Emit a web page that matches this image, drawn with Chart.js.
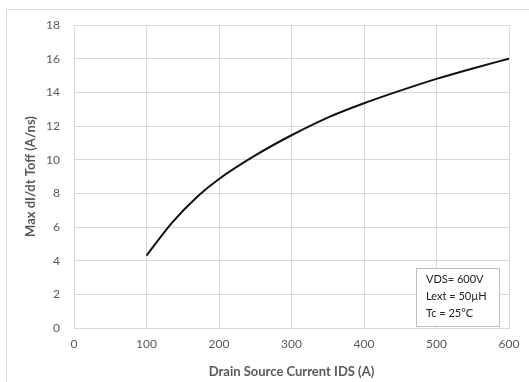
<!DOCTYPE html>
<html>
<head>
<meta charset="utf-8">
<script src="https://cdn.jsdelivr.net/npm/chart.js@4"></script>
<style>
  html, body { margin: 0; padding: 0; background: #ffffff; }
  #wrap { position: relative; width: 529px; height: 382px; }
</style>
</head>
<body>
<div id="wrap"><canvas id="c" width="529" height="382"></canvas></div>
<script>
const currentIDS = [100, 135, 170, 200, 250, 300, 350, 400, 450, 500, 550, 600];
const maxDiDtToff = [4.3, 6.25, 7.8, 8.85, 10.25, 11.45, 12.5, 13.35, 14.1, 14.8, 15.42, 16.0];
const xTicks = [0, 100, 200, 300, 400, 500, 600];
const yTicks = [0, 2, 4, 6, 8, 10, 12, 14, 16, 18];
const noteLines = ["VDS= 600V", "Lext = 50\u00b5H", "Tc = 25\u00b0C"];
const xTitle = "Drain Source Current IDS (A)";
const yTitle = "Max dI/dt Toff (A/ns)";

const FONT = "Lato, 'Open Sans', sans-serif";
const GRID = "#d9d9d9";
const TXT = "#595959";

const frame = {
  id: 'frame',
  beforeDraw(chart) {
    const ctx = chart.ctx;
    ctx.save();
    ctx.fillStyle = '#ffffff';
    ctx.fillRect(0, 0, chart.width, chart.height);
    ctx.strokeStyle = GRID;
    ctx.lineWidth = 1;
    ctx.strokeRect(6.5, 9.5, chart.width + 20, chart.height + 20);
    ctx.restore();
  }
};

const note = {
  id: 'note',
  afterDatasetsDraw(chart) {
    const ctx = chart.ctx;
    const a = chart.chartArea;
    const w = 83, h = 58;
    const x = a.right - 10 - w, y = a.bottom - 2 - h;
    ctx.save();
    ctx.fillStyle = '#ffffff';
    ctx.fillRect(x, y, w, h);
    ctx.strokeStyle = '#bfbfbf';
    ctx.lineWidth = 1;
    ctx.strokeRect(Math.round(x) + 0.5, Math.round(y) + 0.5, w, h);
    ctx.fillStyle = '#222222';
    ctx.font = "11px " + FONT;
    ctx.textBaseline = 'middle';
    noteLines.forEach((t, i) => ctx.fillText(t, x + 10, y + 11 + i * 17));
    ctx.restore();
  }
};

new Chart(document.getElementById('c'), {
  type: 'line',
  data: {
    datasets: [{
      data: currentIDS.map((v, i) => ({ x: v, y: maxDiDtToff[i] })),
      borderColor: '#111111',
      borderWidth: 2,
      pointRadius: 0,
      fill: false,
      tension: 0.4,
      cubicInterpolationMode: 'monotone'
    }]
  },
  options: {
    responsive: false,
    animation: false,
    devicePixelRatio: 1,
    layout: { padding: { left: 23, right: 20, top: 25, bottom: 2 } },
    plugins: { legend: { display: false }, tooltip: { enabled: false } },
    scales: {
      x: {
        type: 'linear',
        min: 0, max: 600,
        afterBuildTicks(s) { s.ticks = xTicks.map(v => ({ value: v })); },
        grid: { color: GRID, drawTicks: false },
        border: { color: GRID },
        ticks: { color: TXT, font: { family: FONT, size: 12 }, padding: 9, maxRotation: 0 },
        title: { display: true, text: xTitle, color: TXT, font: { family: FONT, size: 13, weight: 'bold' }, padding: { top: 6, bottom: 0 } },
        afterFit(s) { s.height = 52; }
      },
      y: {
        min: 0, max: 18,
        afterBuildTicks(s) { s.ticks = yTicks.map(v => ({ value: v })); },
        grid: { color: GRID, drawTicks: false },
        border: { color: GRID },
        ticks: { color: TXT, font: { family: FONT, size: 12 }, padding: 14 },
        title: { display: true, text: yTitle, color: TXT, font: { family: FONT, size: 13, weight: 'bold' }, padding: { top: 0, bottom: 4 } },
        afterFit(s) { s.width = 51; }
      }
    }
  },
  plugins: [frame, note]
});
</script>
</body>
</html>
